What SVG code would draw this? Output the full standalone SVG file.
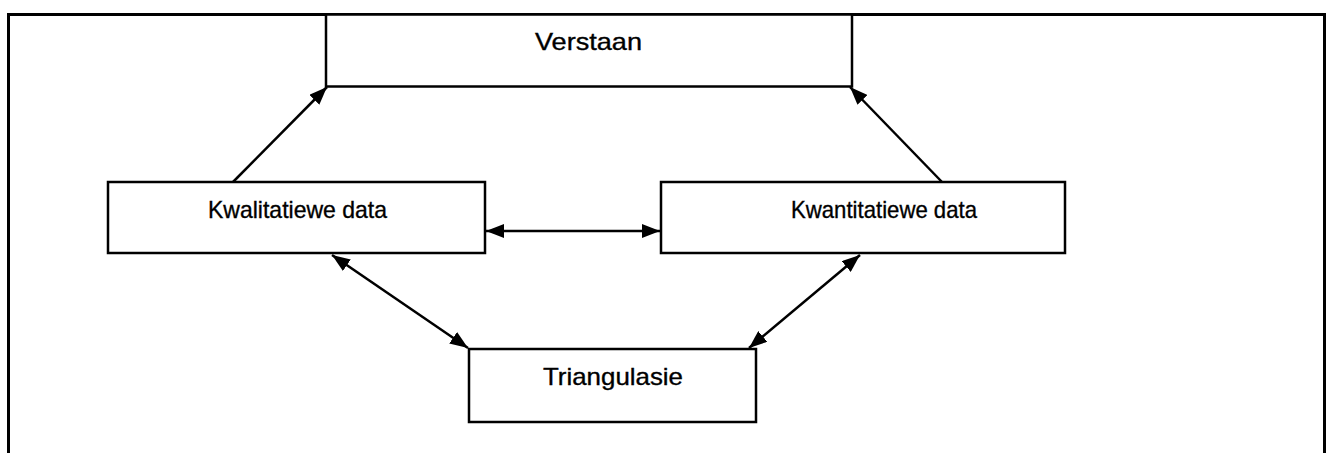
<svg xmlns="http://www.w3.org/2000/svg" width="1329" height="453" viewBox="0 0 1329 453">
  <style>
    .frame { fill: none; stroke: #000; stroke-width: 3; }
    .box { fill: #fff; stroke: #000; stroke-width: 2.5; }
    .label { font-family: "Liberation Sans", Arial, sans-serif; font-size: 24px; fill: #000; stroke: #000; stroke-width: 0.35; }
    .link { fill: none; stroke: #000; stroke-width: 2.5; marker-start: url(#head); marker-end: url(#head); }
    .one { fill: none; stroke: #000; stroke-width: 2.5; marker-end: url(#head); }
  </style>
  <defs>
    <marker id="head" markerUnits="userSpaceOnUse" markerWidth="19" markerHeight="14" refX="18" refY="7" orient="auto-start-reverse">
      <path d="M0,0 L18,7 L0,14 z" fill="#000"/>
    </marker>
  </defs>

  <rect width="1329" height="453" fill="#fff"/>
  <!-- outer frame, open at the bottom -->
  <path class="frame" d="M8.5,460 V14.5 H1324.5 V460"/>

  <g id="connectors">
    <line class="one" x1="233" y1="182" x2="327" y2="87"/>
    <line class="one" x1="942" y1="182" x2="850" y2="87"/>
    <line class="link" x1="486" y1="231" x2="660" y2="231"/>
    <line class="link" x1="332" y1="255" x2="468" y2="348"/>
    <line class="link" x1="860" y1="255" x2="749" y2="348"/>
  </g>

  <g id="verstaan">
    <rect class="box" x="326" y="14.5" width="526" height="72"/>
    <text class="label" x="535" y="50" textLength="107" lengthAdjust="spacingAndGlyphs">Verstaan</text>
  </g>

  <g id="kwalitatief">
    <rect class="box" x="108" y="182" width="377" height="71"/>
    <text class="label" x="208" y="218" textLength="179" lengthAdjust="spacingAndGlyphs">Kwalitatiewe data</text>
  </g>

  <g id="kwantitatief">
    <rect class="box" x="661" y="182" width="404" height="71"/>
    <text class="label" x="791" y="218" textLength="186" lengthAdjust="spacingAndGlyphs">Kwantitatiewe data</text>
  </g>

  <g id="triangulasie">
    <rect class="box" x="469" y="349" width="287" height="73"/>
    <text class="label" x="543" y="385" textLength="140" lengthAdjust="spacingAndGlyphs">Triangulasie</text>
  </g>
</svg>
